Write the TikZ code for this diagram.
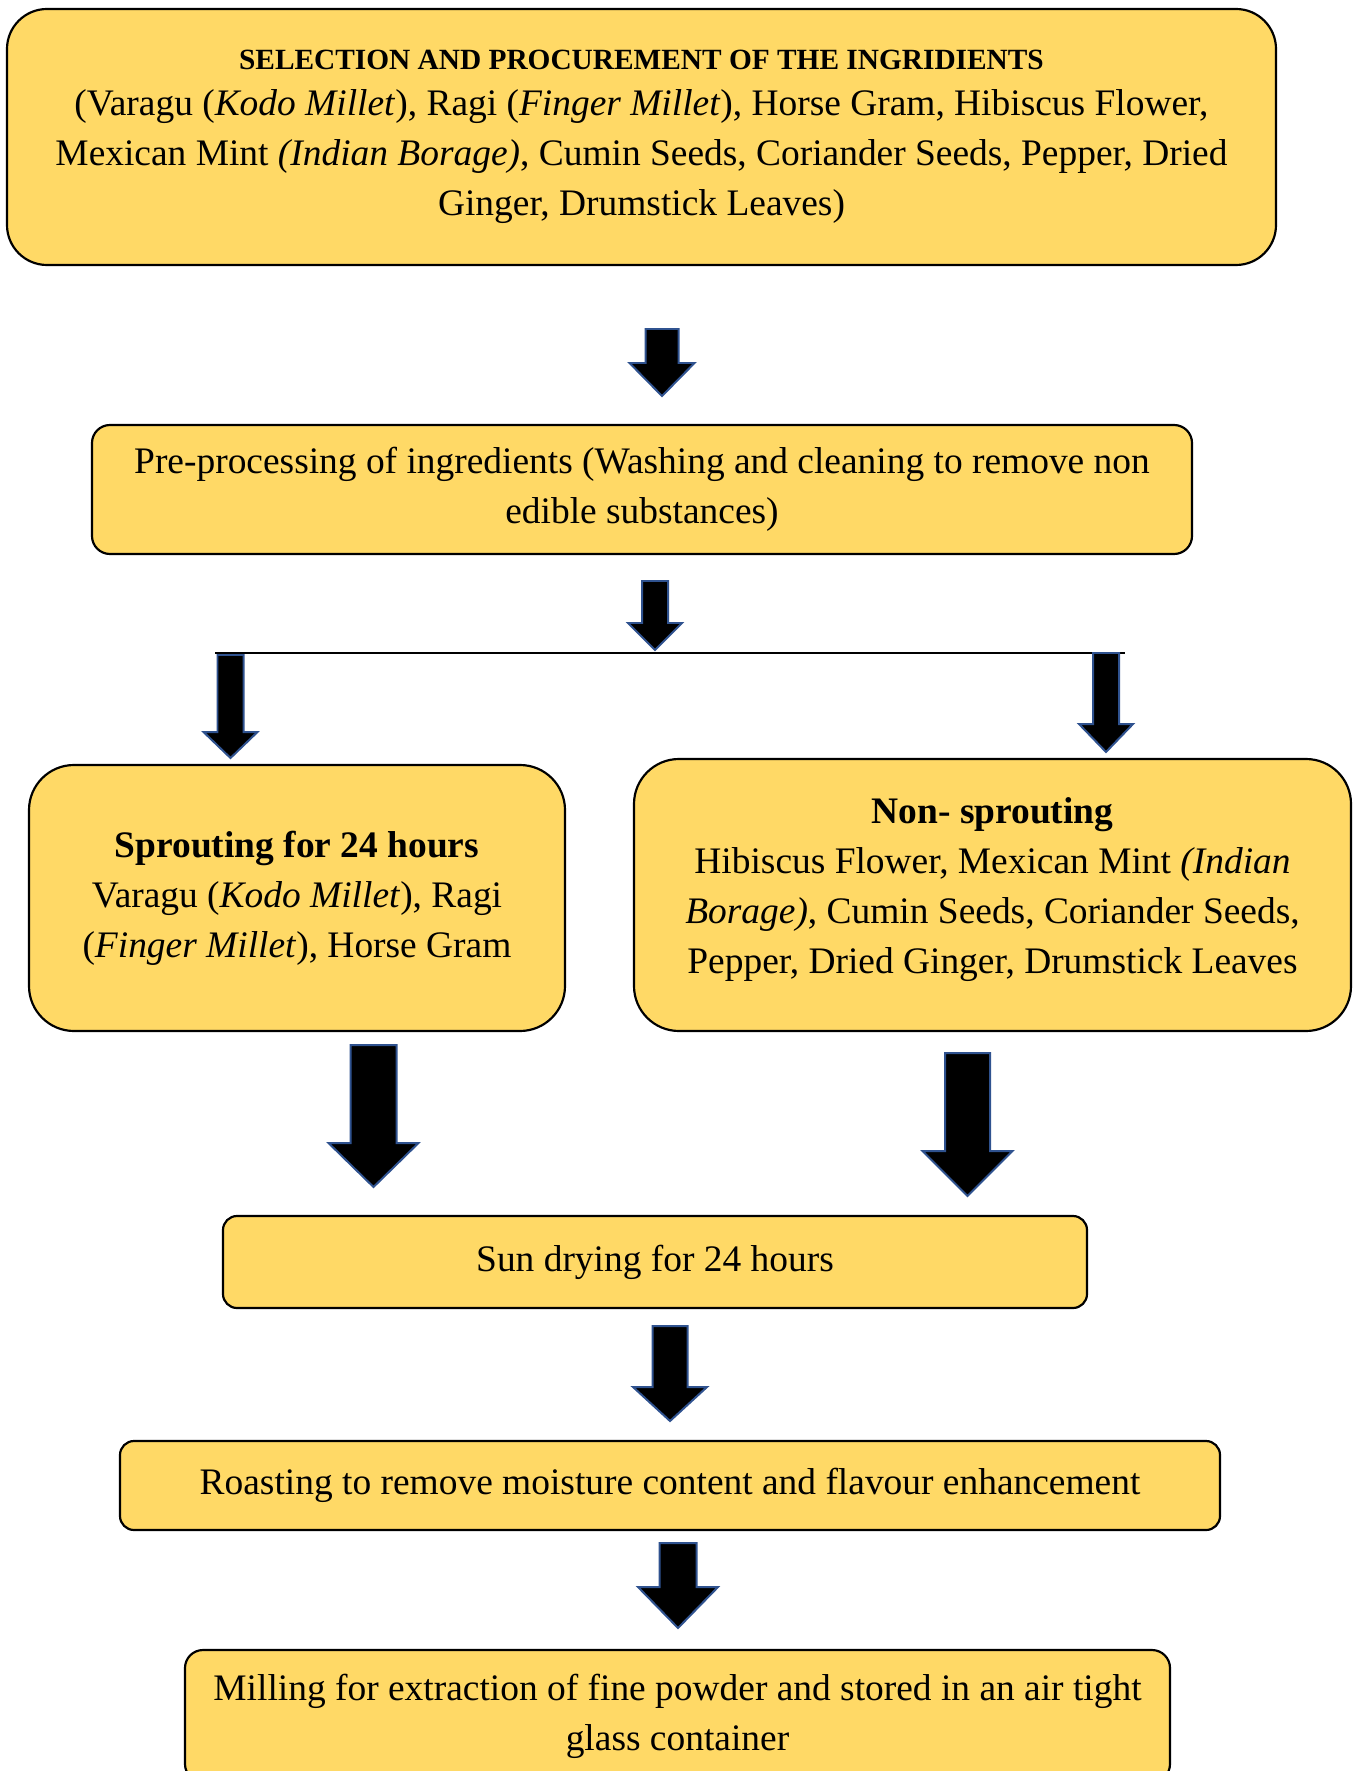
\documentclass[tikz,border=0pt]{standalone}
\usepackage{fontspec}
\setmainfont{Liberation Serif}
\usepackage{tikz}
\definecolor{boxfill}{HTML}{FFD966}
\definecolor{arrowline}{HTML}{2F528F}
\newlength{\unitpx}
\setlength{\unitpx}{0.276pt}
\newcommand{\downblk}[6]{\draw[blkarrow] (#1-#5,#2) -- (#1+#5,#2) -- (#1+#5,#3) -- (#1+#6,#3) -- (#1,#4) -- (#1-#6,#3) -- (#1-#5,#3) -- cycle;}

\begin{document}
\begin{tikzpicture}[x=0.276pt,y=-0.276pt,
    stepbox/.style={draw=black, line width=0.6pt, fill=boxfill, align=center, inner sep=0pt,
      font=\fontsize{10.33}{13.8}\selectfont},
    blkarrow/.style={fill=black, draw=arrowline, line width=0.55pt, line join=miter}]
    \useasboundingbox (0,0) rectangle (1358,1771);

    \node[stepbox, rounded corners=40\unitpx, minimum width=1269\unitpx, minimum height=256\unitpx] (select) at (641.5,137)
      {{\fontsize{8.1}{13.8}\selectfont\textbf{SELECTION AND PROCUREMENT OF THE INGRIDIENTS}}\\[-1pt]
       (Varagu (\textit{Kodo Millet}), Ragi (\textit{Finger Millet}), Horse Gram, Hibiscus Flower,\\
       Mexican Mint \textit{(Indian Borage)}, Cumin Seeds, Coriander Seeds, Pepper, Dried\\
       Ginger, Drumstick Leaves)};
    \node[stepbox, rounded corners=18\unitpx, minimum width=1100\unitpx, minimum height=129\unitpx] (preproc) at (642,489.5)
      {Pre-processing of ingredients (Washing and cleaning to remove non\\ edible substances)};
    \node[stepbox, rounded corners=45\unitpx, minimum width=536\unitpx, minimum height=266\unitpx] (sprout) at (297,898)
      {\textbf{Sprouting for 24 hours}\\ Varagu (\textit{Kodo Millet}), Ragi\\ (\textit{Finger Millet}), Horse Gram};
    \node[stepbox, rounded corners=45\unitpx, minimum width=717\unitpx, minimum height=272\unitpx] (nonsprout) at (992.5,895)
      {\textbf{Non- sprouting}\\ Hibiscus Flower, Mexican Mint \textit{(Indian}\\ \textit{Borage)}, Cumin Seeds, Coriander Seeds,\\ Pepper, Dried Ginger, Drumstick Leaves\\[-8.8pt]\mbox{}};
    \node[stepbox, rounded corners=14\unitpx, minimum width=864\unitpx, minimum height=92\unitpx] (sundry) at (655,1262)
      {Sun drying for 24 hours};
    \node[stepbox, rounded corners=14\unitpx, minimum width=1100\unitpx, minimum height=89\unitpx] (roast) at (670,1485.5)
      {Roasting to remove moisture content and flavour enhancement};
    \node[stepbox, rounded corners=18\unitpx, minimum width=985\unitpx, minimum height=132\unitpx] (mill) at (677.5,1716)
      {Milling for extraction of fine powder and stored in an air tight\\ glass container};

    \coordinate (splitl) at (215,653);
    \coordinate (splitr) at (1125,653);
    \draw[line width=0.4pt] (splitl) -- (splitr);

    \downblk{662}{329}{363}{396}{16.5}{32.5}
    \downblk{655}{581}{623}{650}{13}{27}
    \downblk{230.5}{655}{732}{758}{13}{27}
    \downblk{1106}{653}{724}{752}{13}{27}
    \downblk{373.5}{1045}{1143}{1187}{23}{45}
    \downblk{967.5}{1053}{1151}{1196}{22.5}{45}
    \downblk{670}{1326}{1387}{1421}{17.5}{37}
    \downblk{678}{1543}{1587}{1628}{18.5}{40}
  \end{tikzpicture}
\end{document}
